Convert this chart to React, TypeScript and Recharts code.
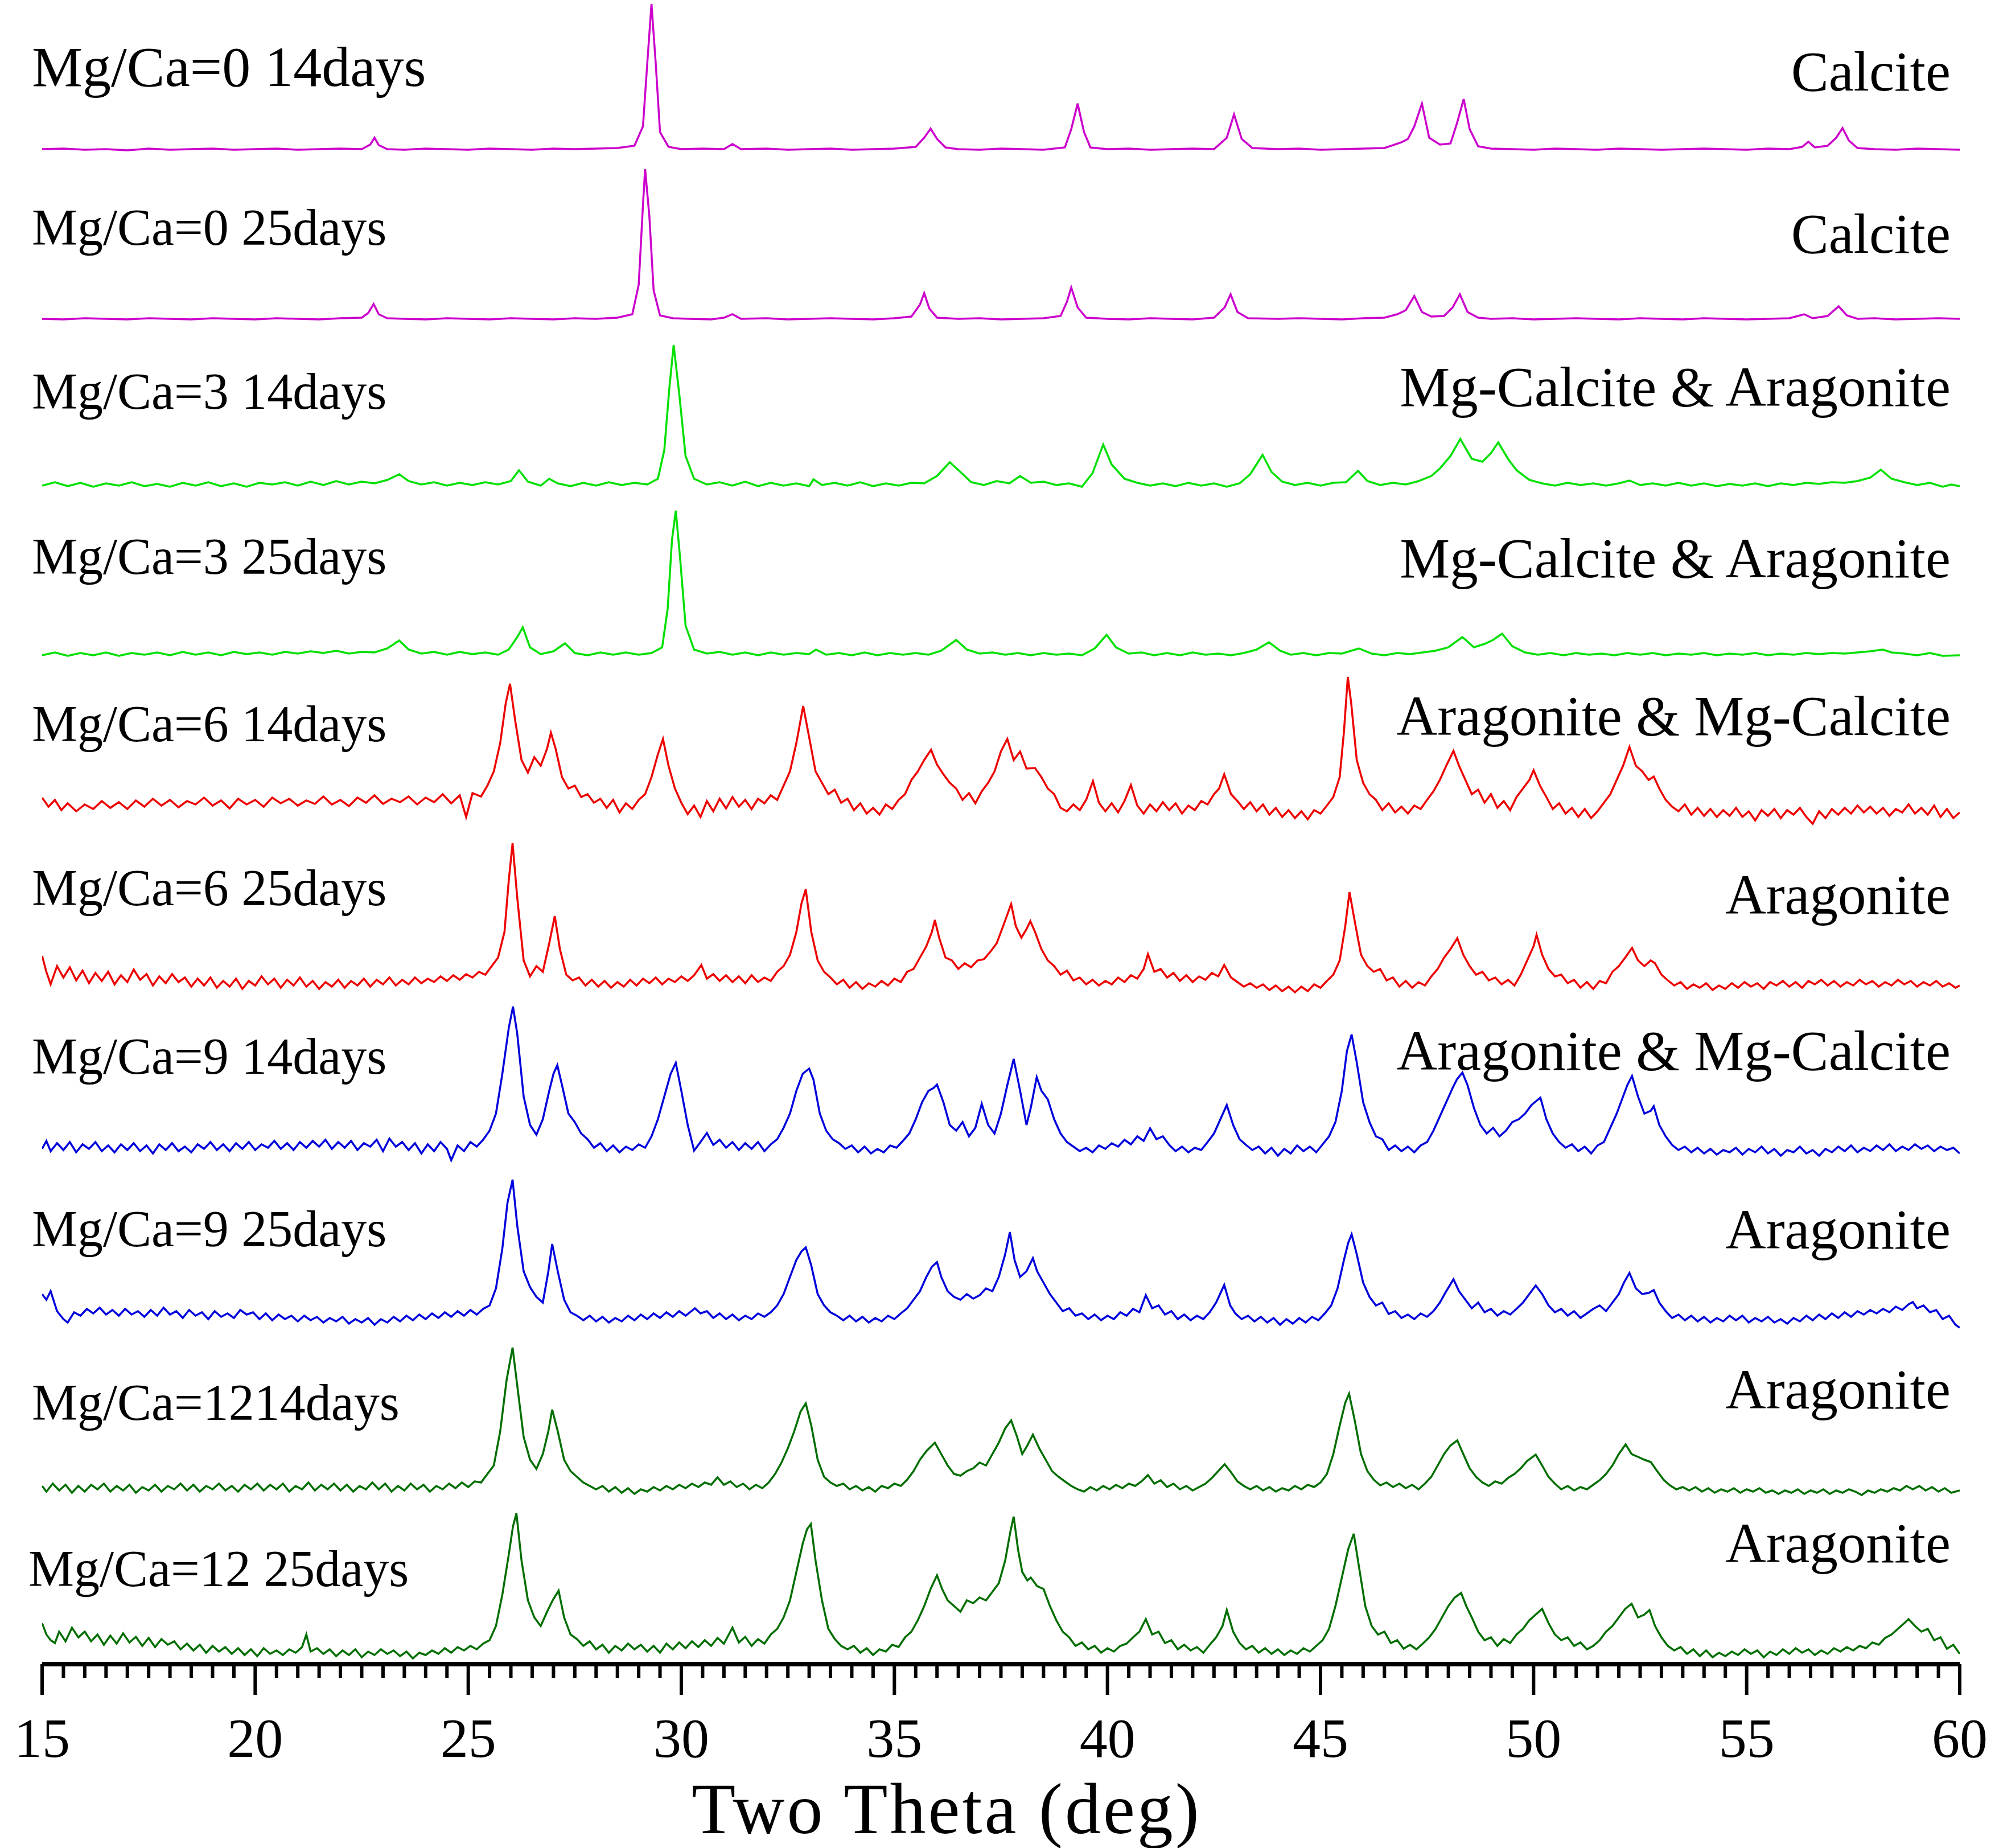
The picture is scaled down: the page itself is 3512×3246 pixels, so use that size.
import { LineChart, Line, XAxis, YAxis } from "recharts";

// XRD patterns, two theta (deg) vs. intensity above each pattern's own baseline
const mg0d14: [number, number][] = [
  [15,0],[15.5,1],[16,-1],[16.5,0],[17,-2],[17.5,1],[18,-1],[18.5,0],[19,1],[19.5,-1],[20,0],[20.5,1],[21,-1],[21.5,0],[22,1],[22.5,0],[22.7,8],[22.8,20],[22.9,7],[23.1,0],[23.5,-1],[24,1],[24.5,0],[25,-1],[25.5,1],[26,0],[26.5,-1],[27,1],[27.5,0],[28,1],[28.5,2],[28.9,6],[29.1,40],[29.2,150],[29.3,255],[29.4,150],[29.5,30],[29.7,4],[30,0],[30.5,1],[31,0],[31.2,9],[31.4,0],[32,1],[32.5,-1],[33,0],[33.5,1],[34,-1],[34.5,0],[35,1],[35.5,4],[35.7,20],[35.85,36],[36,18],[36.2,3],[36.5,0],[37,-1],[37.5,1],[38,0],[38.5,-1],[39,3],[39.15,35],[39.3,80],[39.45,30],[39.6,3],[40,0],[40.5,1],[41,-1],[41.5,0],[42,1],[42.5,0],[42.8,20],[42.97,61],[43.15,18],[43.4,2],[44,0],[44.5,1],[45,-1],[45.5,0],[46,1],[46.5,2],[46.9,12],[47.05,18],[47.2,40],[47.38,80],[47.55,20],[47.8,8],[48.05,10],[48.2,45],[48.36,88],[48.5,35],[48.7,5],[49,1],[49.5,0],[50,-1],[50.5,1],[51,0],[51.5,-1],[52,1],[52.5,0],[53,-1],[53.5,0],[54,1],[54.5,0],[55,-1],[55.5,1],[56,0],[56.3,4],[56.45,13],[56.6,3],[56.9,6],[57.1,20],[57.25,37],[57.4,15],[57.6,2],[58,0],[58.5,-1],[59,1],[59.5,0],[60,-1],
];

const mg0d25: [number, number][] = [
  [15,0],[15.5,-1],[16,1],[16.5,0],[17,-1],[17.5,1],[18,0],[18.5,-1],[19,1],[19.5,0],[20,-1],[20.5,1],[21,0],[21.5,-1],[22,1],[22.5,2],[22.65,10],[22.78,26],[22.9,8],[23.1,1],[23.5,0],[24,-1],[24.5,1],[25,0],[25.5,-1],[26,1],[26.5,0],[27,-1],[27.5,1],[28,0],[28.5,2],[28.85,8],[29,60],[29.1,200],[29.15,263],[29.25,180],[29.35,50],[29.5,6],[29.8,1],[30.2,0],[30.7,-1],[31,2],[31.2,8],[31.4,0],[32,1],[32.5,-1],[33,0],[33.5,1],[34,0],[34.5,-1],[35,1],[35.4,4],[35.6,25],[35.7,45],[35.82,18],[36,2],[36.5,0],[37,1],[37.5,-1],[38,0],[38.5,1],[38.9,5],[39.05,30],[39.15,55],[39.3,20],[39.5,2],[40,0],[40.5,-1],[41,1],[41.5,0],[42,-1],[42.5,2],[42.75,20],[42.89,43],[43.05,12],[43.3,1],[44,0],[44.5,1],[45,0],[45.5,-1],[46,1],[46.5,2],[46.8,8],[47,15],[47.2,40],[47.38,12],[47.6,4],[47.9,5],[48.1,20],[48.27,43],[48.45,12],[48.7,2],[49,0],[49.5,1],[50,-1],[50.5,0],[51,1],[51.5,0],[52,-1],[52.5,1],[53,0],[53.5,-1],[54,1],[54.5,0],[55,-1],[55.5,0],[56,1],[56.35,8],[56.55,1],[56.9,5],[57.16,22],[57.35,6],[57.6,0],[58,1],[58.5,-1],[59,0],[59.5,1],[60,0],
];

const mg3d14: [number, number][] = [
  [15,-2],[15.3,4],[15.6,-3],[15.9,3],[16.2,-4],[16.5,2],[16.8,-2],[17.1,4],[17.4,-3],[17.7,1],[18,-4],[18.3,3],[18.6,-2],[18.9,4],[19.2,-3],[19.5,2],[19.8,-4],[20.1,3],[20.4,0],[20.7,4],[21,-2],[21.3,5],[21.6,-1],[21.9,6],[22.2,0],[22.5,5],[22.8,2],[23.1,8],[23.38,18],[23.6,6],[23.9,0],[24.2,4],[24.5,-2],[24.8,3],[25.1,-1],[25.4,4],[25.7,0],[26,6],[26.19,25],[26.4,5],[26.7,-2],[26.9,10],[27.1,2],[27.4,-3],[27.7,3],[28,-2],[28.3,4],[28.6,-1],[28.9,3],[29.2,0],[29.45,10],[29.6,60],[29.72,170],[29.82,245],[29.95,160],[30.1,50],[30.3,10],[30.6,0],[30.9,4],[31.2,-2],[31.5,5],[31.8,-3],[32.1,3],[32.4,-2],[32.7,2],[33,-3],[33.1,9],[33.3,-1],[33.6,3],[33.9,-2],[34.2,4],[34.5,-3],[34.8,2],[35.1,-2],[35.4,3],[35.7,2],[36,15],[36.3,39],[36.55,22],[36.8,4],[37.1,-1],[37.4,6],[37.7,2],[37.95,15],[38.2,3],[38.5,5],[38.8,-1],[39.1,2],[39.4,-4],[39.65,20],[39.9,70],[40.1,35],[40.4,10],[40.7,3],[41,-2],[41.3,2],[41.6,-3],[41.9,3],[42.2,-2],[42.5,2],[42.8,-4],[43.1,2],[43.35,18],[43.64,52],[43.85,22],[44.1,5],[44.4,-1],[44.7,3],[45,-2],[45.3,3],[45.6,4],[45.88,24],[46.1,6],[46.4,-1],[46.7,3],[47,0],[47.3,6],[47.6,15],[47.8,28],[48.05,50],[48.28,80],[48.55,45],[48.8,40],[49,55],[49.17,74],[49.4,45],[49.6,25],[49.9,8],[50.2,2],[50.5,-2],[50.8,3],[51.1,-1],[51.4,2],[51.7,-2],[52,2],[52.25,7],[52.5,-1],[52.8,2],[53.1,-2],[53.4,3],[53.7,-2],[54,2],[54.3,-3],[54.6,1],[54.9,-2],[55.2,2],[55.5,-3],[55.8,2],[56.1,-1],[56.4,3],[56.7,1],[57,4],[57.3,3],[57.6,6],[57.9,12],[58.15,26],[58.4,10],[58.7,4],[59,-1],[59.3,3],[59.6,-4],[59.8,0],[60,-3],
];

const mg3d25: [number, number][] = [
  [15,-2],[15.3,3],[15.6,-3],[15.9,2],[16.2,-2],[16.5,3],[16.8,-3],[17.1,2],[17.4,-1],[17.7,3],[18,-2],[18.3,4],[18.6,-1],[18.9,3],[19.2,-2],[19.5,4],[19.8,0],[20.1,3],[20.4,-1],[20.7,4],[21,1],[21.3,5],[21.6,2],[21.9,6],[22.2,1],[22.5,4],[22.8,3],[23.1,10],[23.38,24],[23.6,8],[23.9,1],[24.2,4],[24.5,-1],[24.8,4],[25.1,0],[25.4,3],[25.7,-1],[25.95,8],[26.15,30],[26.28,47],[26.45,12],[26.7,0],[27,5],[27.27,19],[27.5,2],[27.8,-2],[28.1,3],[28.4,-1],[28.7,3],[29,-1],[29.3,2],[29.55,12],[29.68,80],[29.78,200],[29.87,252],[29.97,170],[30.1,50],[30.3,8],[30.6,1],[30.9,4],[31.2,-1],[31.5,3],[31.8,-2],[32.1,3],[32.4,-1],[32.7,2],[33,0],[33.16,8],[33.4,-1],[33.7,2],[34,-2],[34.3,3],[34.6,-2],[34.9,2],[35.2,-1],[35.5,2],[35.8,-1],[36.1,6],[36.45,25],[36.7,8],[37,1],[37.3,3],[37.6,-1],[37.9,2],[38.2,-2],[38.5,2],[38.8,-1],[39.1,1],[39.4,-2],[39.7,10],[39.98,34],[40.2,12],[40.5,1],[40.8,3],[41.1,-2],[41.4,2],[41.7,-2],[42,3],[42.3,-1],[42.6,1],[42.9,-2],[43.2,2],[43.5,8],[43.79,21],[44.05,6],[44.3,-1],[44.6,2],[44.9,-2],[45.2,2],[45.5,1],[45.9,10],[46.2,1],[46.5,-2],[46.8,2],[47.1,0],[47.4,3],[47.7,6],[48,12],[48.33,30],[48.6,12],[48.85,18],[49.05,25],[49.26,36],[49.5,14],[49.8,3],[50.1,-1],[50.4,2],[50.7,-2],[51,2],[51.3,-1],[51.6,1],[51.9,-2],[52.2,2],[52.5,-1],[52.8,2],[53.1,-2],[53.4,1],[53.7,-1],[54,2],[54.3,-2],[54.6,1],[54.9,-1],[55.2,2],[55.5,-2],[55.8,1],[56.1,-1],[56.4,2],[56.7,0],[57,2],[57.3,1],[57.6,3],[57.9,5],[58.2,8],[58.4,3],[58.7,1],[59,-2],[59.3,2],[59.6,-3],[60,-2],
];

const mg6d14: [number, number][] = [
  [15,14],[15.15,-2],[15.3,10],[15.45,-8],[15.6,4],[15.8,-10],[16,2],[16.2,-6],[16.4,8],[16.6,-4],[16.8,6],[17,-6],[17.2,9],[17.4,-2],[17.6,12],[17.8,0],[18,10],[18.2,-3],[18.4,8],[18.6,2],[18.8,14],[19,0],[19.2,9],[19.4,-5],[19.6,12],[19.8,2],[20,10],[20.2,-2],[20.4,14],[20.6,4],[20.8,12],[21,0],[21.2,9],[21.4,3],[21.6,16],[21.8,2],[22,10],[22.2,-1],[22.4,14],[22.6,5],[22.8,18],[23,3],[23.2,12],[23.4,6],[23.6,16],[23.8,2],[24,14],[24.2,6],[24.4,20],[24.6,4],[24.8,18],[24.95,-20],[25.1,22],[25.3,16],[25.45,35],[25.6,60],[25.75,110],[25.88,180],[25.98,214],[26.1,150],[26.25,80],[26.4,58],[26.55,85],[26.7,70],[26.85,100],[26.94,128],[27.05,100],[27.2,50],[27.35,30],[27.5,35],[27.65,15],[27.8,20],[27.95,5],[28.1,12],[28.25,-4],[28.4,10],[28.55,-12],[28.7,4],[28.85,-6],[29,10],[29.15,20],[29.3,50],[29.45,90],[29.57,117],[29.7,70],[29.85,30],[30,5],[30.15,-15],[30.3,0],[30.45,-20],[30.6,8],[30.75,-10],[30.9,12],[31.05,-5],[31.2,15],[31.35,-2],[31.5,10],[31.65,-6],[31.8,12],[31.95,4],[32.1,18],[32.25,10],[32.4,35],[32.55,60],[32.7,110],[32.86,175],[33,120],[33.15,60],[33.3,40],[33.45,20],[33.6,28],[33.75,5],[33.9,12],[34.05,-8],[34.2,4],[34.35,-14],[34.5,-4],[34.65,-16],[34.8,2],[34.95,-6],[35.1,10],[35.25,20],[35.4,45],[35.55,60],[35.7,80],[35.86,98],[36,72],[36.15,55],[36.3,40],[36.45,30],[36.6,10],[36.75,22],[36.9,4],[37.05,25],[37.2,40],[37.35,60],[37.5,95],[37.65,117],[37.8,80],[37.95,95],[38.1,65],[38.3,66],[38.45,50],[38.6,30],[38.75,20],[38.9,-4],[39.05,-10],[39.2,2],[39.35,-8],[39.5,10],[39.66,43],[39.8,5],[39.95,-10],[40.1,4],[40.25,-12],[40.4,8],[40.55,36],[40.7,0],[40.85,-14],[41,2],[41.15,-10],[41.3,6],[41.45,-8],[41.6,4],[41.75,-14],[41.9,0],[42.05,-8],[42.2,8],[42.35,2],[42.5,20],[42.62,30],[42.74,55],[42.9,20],[43.05,8],[43.2,-6],[43.35,6],[43.5,-10],[43.65,2],[43.8,-16],[43.95,-4],[44.1,-20],[44.25,-8],[44.4,-22],[44.55,-10],[44.7,-24],[44.85,-8],[45,-14],[45.15,0],[45.3,15],[45.45,50],[45.55,130],[45.64,226],[45.72,180],[45.85,80],[46,40],[46.15,20],[46.3,10],[46.45,-8],[46.6,4],[46.75,-12],[46.9,-2],[47.05,-14],[47.2,0],[47.35,-6],[47.5,10],[47.65,25],[47.8,45],[47.95,70],[48.12,96],[48.25,70],[48.4,45],[48.55,20],[48.7,28],[48.85,5],[49,20],[49.15,-4],[49.3,8],[49.45,-8],[49.6,15],[49.75,30],[49.9,45],[50,62],[50.15,35],[50.3,15],[50.45,-6],[50.6,4],[50.75,-14],[50.9,-4],[51.05,-20],[51.2,-6],[51.35,-22],[51.5,-10],[51.65,5],[51.8,20],[51.95,45],[52.1,70],[52.25,103],[52.4,70],[52.55,60],[52.7,45],[52.82,51],[52.95,30],[53.1,10],[53.25,-2],[53.4,-10],[53.55,2],[53.7,-16],[53.85,-4],[54,-18],[54.15,-6],[54.3,-20],[54.45,-8],[54.6,-18],[54.75,-4],[54.9,-20],[55.05,-10],[55.2,-26],[55.35,-8],[55.5,-18],[55.65,-6],[55.8,-22],[55.95,-8],[56.1,-16],[56.25,-4],[56.4,-20],[56.55,-32],[56.7,-10],[56.85,-22],[57,-6],[57.15,-16],[57.3,-4],[57.45,-14],[57.6,0],[57.75,-12],[57.9,-2],[58.05,-14],[58.2,-4],[58.35,-18],[58.5,-6],[58.65,-12],[58.8,2],[58.95,-14],[59.1,-4],[59.25,-16],[59.4,0],[59.55,-20],[59.7,-6],[59.85,-22],[60,-12],
];

const mg6d25: [number, number][] = [
  [15,48],[15.1,20],[15.2,-2],[15.35,30],[15.5,10],[15.65,28],[15.8,5],[15.95,22],[16.1,0],[16.25,18],[16.4,4],[16.55,20],[16.7,-2],[16.85,14],[17,2],[17.15,24],[17.3,6],[17.45,16],[17.6,-4],[17.75,12],[17.9,0],[18.05,16],[18.2,2],[18.35,10],[18.5,-6],[18.65,8],[18.8,-4],[18.95,10],[19.1,-8],[19.25,4],[19.4,-6],[19.55,8],[19.7,-10],[19.85,4],[20,-4],[20.15,12],[20.3,-2],[20.45,8],[20.6,-8],[20.75,6],[20.9,-4],[21.05,10],[21.2,-6],[21.35,4],[21.5,-10],[21.65,2],[21.8,-6],[21.95,6],[22.1,-8],[22.25,4],[22.4,-4],[22.55,8],[22.7,-6],[22.85,6],[23,-2],[23.15,10],[23.3,-4],[23.45,6],[23.6,-2],[23.75,10],[23.9,0],[24.05,8],[24.2,2],[24.35,12],[24.5,4],[24.65,14],[24.8,6],[24.95,16],[25.1,10],[25.25,20],[25.4,15],[25.55,30],[25.7,45],[25.85,90],[25.95,180],[26.04,246],[26.15,150],[26.3,40],[26.45,12],[26.6,30],[26.75,20],[26.9,70],[27.03,118],[27.15,60],[27.3,15],[27.45,5],[27.6,10],[27.75,-4],[27.9,6],[28.05,-6],[28.2,4],[28.35,-8],[28.5,2],[28.65,-6],[28.8,6],[28.95,-4],[29.1,8],[29.25,0],[29.4,10],[29.55,-2],[29.7,8],[29.85,2],[30,12],[30.15,4],[30.3,14],[30.47,32],[30.6,8],[30.75,16],[30.9,4],[31.05,14],[31.2,2],[31.35,12],[31.5,0],[31.65,14],[31.8,2],[31.95,10],[32.1,4],[32.25,20],[32.4,30],[32.55,50],[32.7,90],[32.82,140],[32.92,165],[33.05,90],[33.2,40],[33.35,20],[33.5,10],[33.65,-2],[33.8,6],[33.95,-8],[34.1,2],[34.25,-10],[34.4,0],[34.55,-6],[34.7,4],[34.85,-4],[35,8],[35.15,2],[35.3,20],[35.45,25],[35.6,45],[35.75,65],[35.88,90],[35.95,111],[36.05,80],[36.2,45],[36.35,40],[36.5,25],[36.65,35],[36.8,28],[36.95,40],[37.1,42],[37.25,55],[37.4,70],[37.55,100],[37.74,139],[37.85,100],[37.98,80],[38.1,95],[38.19,109],[38.3,90],[38.45,60],[38.6,40],[38.75,30],[38.9,15],[39.05,22],[39.2,5],[39.35,10],[39.5,-2],[39.65,6],[39.8,-4],[39.95,4],[40.1,-2],[40.25,10],[40.4,2],[40.55,14],[40.7,8],[40.85,25],[40.95,51],[41.1,20],[41.25,25],[41.4,10],[41.55,18],[41.7,4],[41.85,14],[42,2],[42.15,12],[42.3,6],[42.45,18],[42.6,12],[42.74,32],[42.9,10],[43.05,2],[43.2,-6],[43.35,0],[43.5,-8],[43.65,-2],[43.8,-12],[43.95,-4],[44.1,-14],[44.25,-6],[44.4,-16],[44.55,-6],[44.7,-14],[44.85,-2],[45,-8],[45.15,4],[45.3,15],[45.45,40],[45.58,100],[45.68,160],[45.8,110],[45.95,50],[46.1,30],[46.25,20],[46.4,25],[46.55,5],[46.7,10],[46.85,-6],[47,4],[47.15,-8],[47.3,2],[47.45,-4],[47.6,12],[47.75,25],[47.9,45],[48.05,60],[48.21,79],[48.35,50],[48.5,30],[48.65,15],[48.8,20],[48.95,5],[49.1,10],[49.25,-2],[49.4,6],[49.55,-4],[49.7,15],[49.85,40],[50,65],[50.07,85],[50.2,50],[50.35,25],[50.5,12],[50.65,15],[50.8,0],[50.95,6],[51.1,-8],[51.25,2],[51.4,-10],[51.55,4],[51.7,0],[51.85,20],[52,30],[52.15,45],[52.31,62],[52.45,40],[52.6,30],[52.75,40],[52.85,35],[53,15],[53.15,5],[53.3,-4],[53.45,2],[53.6,-10],[53.75,-2],[53.9,-8],[54.05,0],[54.2,-12],[54.35,-4],[54.5,-10],[54.65,0],[54.8,-8],[54.95,2],[55.1,-6],[55.25,0],[55.4,-10],[55.55,2],[55.7,-4],[55.85,4],[56,-6],[56.15,2],[56.3,-8],[56.45,4],[56.6,-2],[56.75,6],[56.9,-4],[57.05,4],[57.2,-6],[57.35,2],[57.5,-4],[57.65,6],[57.8,-2],[57.95,4],[58.1,-6],[58.25,2],[58.4,-4],[58.55,6],[58.7,-2],[58.85,4],[59,-6],[59.15,2],[59.3,-4],[59.45,4],[59.6,-6],[59.75,0],[59.9,-8],[60,-4],
];

const mg9d14: [number, number][] = [
  [15,-2],[15.1,12],[15.2,-6],[15.35,8],[15.5,-4],[15.65,10],[15.8,-8],[15.95,6],[16.1,-2],[16.25,10],[16.4,-6],[16.55,4],[16.7,-8],[16.85,6],[17,-4],[17.15,8],[17.3,-6],[17.45,4],[17.6,-10],[17.75,6],[17.9,-4],[18.05,8],[18.2,-6],[18.35,2],[18.5,-8],[18.65,6],[18.8,-2],[18.95,10],[19.1,-4],[19.25,6],[19.4,-6],[19.55,8],[19.7,-2],[19.85,10],[20,-4],[20.15,6],[20.3,0],[20.45,12],[20.6,-2],[20.75,8],[20.9,-4],[21.05,10],[21.2,0],[21.35,12],[21.5,2],[21.65,14],[21.8,-2],[21.95,10],[22.1,0],[22.25,12],[22.4,-4],[22.55,8],[22.7,2],[22.85,14],[23,-6],[23.15,16],[23.3,2],[23.45,10],[23.6,-4],[23.75,8],[23.9,-10],[24.05,6],[24.2,-6],[24.35,10],[24.5,-2],[24.6,-22],[24.75,4],[24.9,-6],[25.05,10],[25.2,2],[25.35,14],[25.5,30],[25.65,60],[25.8,130],[25.95,210],[26.05,248],[26.15,200],[26.3,90],[26.45,40],[26.6,23],[26.75,50],[26.9,100],[27,130],[27.09,145],[27.2,110],[27.35,60],[27.5,45],[27.65,25],[27.8,15],[27.95,0],[28.1,8],[28.25,-6],[28.4,4],[28.55,-8],[28.7,2],[28.85,-4],[29,6],[29.15,0],[29.3,20],[29.45,50],[29.6,90],[29.75,130],[29.87,149],[30,100],[30.15,40],[30.3,-5],[30.45,10],[30.6,26],[30.75,5],[30.9,14],[31.05,0],[31.2,10],[31.35,-4],[31.5,8],[31.65,-2],[31.8,10],[31.95,-6],[32.1,6],[32.25,15],[32.4,35],[32.55,60],[32.7,100],[32.85,130],[33,139],[33.1,120],[33.25,60],[33.4,30],[33.55,15],[33.7,8],[33.85,-2],[34,4],[34.15,-8],[34.3,2],[34.45,-10],[34.6,-2],[34.75,-8],[34.9,4],[35.05,0],[35.2,12],[35.35,25],[35.5,50],[35.65,80],[35.8,100],[35.92,105],[36,111],[36.15,80],[36.3,40],[36.45,30],[36.6,45],[36.75,20],[36.9,35],[37.05,77],[37.2,40],[37.35,25],[37.5,60],[37.65,110],[37.8,156],[37.95,100],[38.1,40],[38.2,70],[38.34,124],[38.45,100],[38.6,85],[38.75,50],[38.9,25],[39.05,10],[39.2,2],[39.35,-6],[39.5,0],[39.65,-8],[39.8,4],[39.95,-2],[40.1,8],[40.25,2],[40.4,14],[40.55,6],[40.7,20],[40.85,12],[41,34],[41.15,15],[41.3,20],[41.45,5],[41.6,-6],[41.75,2],[41.9,-8],[42.05,0],[42.2,-4],[42.35,10],[42.5,25],[42.65,50],[42.8,75],[42.95,40],[43.1,15],[43.25,5],[43.4,-4],[43.55,2],[43.7,-10],[43.85,0],[44,-14],[44.15,-2],[44.3,-10],[44.45,4],[44.6,-6],[44.75,2],[44.9,-8],[45.05,6],[45.2,20],[45.35,45],[45.5,100],[45.62,170],[45.73,199],[45.85,150],[46,80],[46.15,45],[46.3,20],[46.45,15],[46.6,-4],[46.75,4],[46.9,-6],[47.05,2],[47.2,-8],[47.35,4],[47.5,10],[47.65,30],[47.8,55],[47.95,80],[48.1,105],[48.2,120],[48.33,132],[48.45,110],[48.6,70],[48.75,40],[48.9,25],[49.05,35],[49.2,20],[49.35,30],[49.5,45],[49.65,50],[49.8,60],[49.95,75],[50.16,88],[50.3,50],[50.45,25],[50.6,10],[50.75,0],[50.9,6],[51.05,-6],[51.2,2],[51.35,-10],[51.5,4],[51.65,10],[51.8,35],[51.95,60],[52.1,90],[52.2,110],[52.31,126],[52.45,90],[52.6,60],[52.75,65],[52.82,73],[52.95,40],[53.1,20],[53.25,5],[53.4,-4],[53.55,2],[53.7,-8],[53.85,0],[54,-10],[54.15,-2],[54.3,-12],[54.45,-4],[54.6,-8],[54.75,0],[54.9,-12],[55.05,-2],[55.2,-8],[55.35,2],[55.5,-10],[55.65,-2],[55.8,-14],[55.95,-4],[56.1,-8],[56.25,2],[56.4,-10],[56.55,-4],[56.7,-14],[56.85,-2],[57,-8],[57.15,2],[57.3,-6],[57.45,4],[57.6,-8],[57.75,0],[57.9,-6],[58.05,4],[58.2,-4],[58.35,6],[58.5,-6],[58.65,2],[58.8,-4],[58.95,6],[59.1,-2],[59.25,4],[59.4,-6],[59.55,2],[59.7,-4],[59.85,0],[60,-10],
];

const mg9d25: [number, number][] = [
  [15,40],[15.1,30],[15.2,45],[15.35,10],[15.5,-4],[15.6,-10],[15.75,8],[15.9,2],[16.05,14],[16.2,6],[16.35,16],[16.5,4],[16.65,12],[16.8,2],[16.95,14],[17.1,4],[17.25,10],[17.4,0],[17.55,12],[17.7,2],[17.85,16],[18,4],[18.15,10],[18.3,-2],[18.45,12],[18.6,2],[18.75,8],[18.9,-4],[19.05,10],[19.2,0],[19.35,6],[19.5,-2],[19.65,12],[19.8,4],[19.95,8],[20.1,-4],[20.25,6],[20.4,-6],[20.55,4],[20.7,-4],[20.85,2],[21,-8],[21.15,2],[21.3,-6],[21.45,0],[21.6,-10],[21.75,-2],[21.9,-8],[22.05,0],[22.2,-12],[22.35,-4],[22.5,-10],[22.65,-2],[22.8,-14],[22.95,-4],[23.1,-10],[23.25,0],[23.4,-8],[23.55,2],[23.7,-6],[23.85,4],[24,-4],[24.15,6],[24.3,-2],[24.45,8],[24.6,0],[24.75,10],[24.9,2],[25.05,12],[25.2,4],[25.35,14],[25.5,20],[25.65,50],[25.8,120],[25.92,200],[26.04,241],[26.15,160],[26.3,80],[26.45,52],[26.6,35],[26.75,25],[26.88,80],[26.97,128],[27.1,80],[27.25,30],[27.4,8],[27.55,2],[27.7,-6],[27.85,2],[28,-8],[28.15,0],[28.3,-10],[28.45,-2],[28.6,-8],[28.75,2],[28.9,-6],[29.05,4],[29.2,-4],[29.35,6],[29.5,-2],[29.65,8],[29.8,0],[29.95,10],[30.1,2],[30.32,15],[30.45,6],[30.6,10],[30.75,-2],[30.9,6],[31.05,-4],[31.2,4],[31.35,-6],[31.5,2],[31.65,-4],[31.8,6],[31.95,0],[32.1,8],[32.25,20],[32.4,40],[32.55,70],[32.7,100],[32.82,115],[32.92,122],[33.05,90],[33.2,40],[33.35,20],[33.5,8],[33.65,2],[33.8,-6],[33.95,2],[34.1,-8],[34.25,0],[34.4,-10],[34.55,-2],[34.7,-8],[34.85,2],[35,-4],[35.15,6],[35.3,15],[35.45,30],[35.6,45],[35.75,70],[35.88,88],[36,96],[36.1,70],[36.25,45],[36.4,35],[36.55,30],[36.7,40],[36.85,32],[37,38],[37.15,50],[37.3,45],[37.45,70],[37.6,110],[37.71,149],[37.82,100],[37.95,70],[38.1,80],[38.25,103],[38.35,80],[38.5,60],[38.65,40],[38.8,25],[38.95,10],[39.1,15],[39.25,2],[39.4,6],[39.55,-4],[39.7,4],[39.85,-6],[40,2],[40.15,-4],[40.3,8],[40.45,2],[40.6,14],[40.75,8],[40.9,38],[41.05,15],[41.2,20],[41.35,4],[41.5,10],[41.65,-4],[41.8,4],[41.95,-6],[42.1,2],[42.25,-4],[42.4,8],[42.55,25],[42.74,56],[42.88,20],[43,6],[43.15,-4],[43.3,2],[43.45,-8],[43.6,0],[43.75,-10],[43.9,-2],[44.05,-14],[44.2,-4],[44.35,-12],[44.5,-2],[44.65,-10],[44.8,0],[44.95,-6],[45.1,6],[45.25,20],[45.4,50],[45.55,100],[45.65,130],[45.73,145],[45.85,110],[46,60],[46.15,35],[46.3,20],[46.45,25],[46.6,5],[46.75,10],[46.9,-2],[47.05,4],[47.2,-4],[47.35,6],[47.5,0],[47.65,10],[47.8,25],[47.95,45],[48.12,66],[48.25,45],[48.4,30],[48.55,15],[48.7,25],[48.85,8],[49,14],[49.15,2],[49.3,10],[49.45,4],[49.6,14],[49.75,25],[49.9,40],[50.05,55],[50.2,40],[50.35,20],[50.5,8],[50.65,14],[50.8,2],[50.95,10],[51.1,-2],[51.25,6],[51.4,14],[51.55,20],[51.7,10],[51.85,25],[52,40],[52.12,60],[52.25,77],[52.4,50],[52.55,40],[52.7,42],[52.82,47],[52.95,25],[53.1,10],[53.25,-2],[53.4,4],[53.55,-6],[53.7,2],[53.85,-8],[54,0],[54.15,-10],[54.3,-2],[54.45,-8],[54.6,2],[54.75,-6],[54.9,2],[55.05,-10],[55.2,-2],[55.35,-8],[55.5,0],[55.65,-10],[55.8,-4],[55.95,-12],[56.1,-2],[56.25,-8],[56.4,2],[56.55,-6],[56.7,4],[56.85,-4],[57,6],[57.15,-2],[57.3,8],[57.45,0],[57.6,10],[57.75,4],[57.9,12],[58.05,6],[58.2,14],[58.35,8],[58.5,18],[58.65,12],[58.8,22],[58.9,26],[59,15],[59.15,20],[59.3,8],[59.45,12],[59.6,-4],[59.75,2],[59.9,-14],[60,-19],
];

const mg12d14: [number, number][] = [
  [15,4],[15.1,-6],[15.25,8],[15.4,-4],[15.55,6],[15.7,-8],[15.85,4],[16,-6],[16.15,6],[16.3,-2],[16.45,8],[16.6,-6],[16.75,4],[16.9,-4],[17.05,6],[17.2,-8],[17.35,2],[17.5,-4],[17.65,6],[17.8,-6],[17.95,4],[18.1,-2],[18.25,8],[18.4,-4],[18.55,6],[18.7,-6],[18.85,4],[19,-2],[19.15,8],[19.3,-4],[19.45,4],[19.6,-6],[19.75,6],[19.9,-2],[20.05,8],[20.2,-4],[20.35,6],[20.5,-2],[20.65,8],[20.8,-6],[20.95,4],[21.1,-2],[21.25,10],[21.4,-4],[21.55,6],[21.7,-2],[21.85,8],[22,-4],[22.15,6],[22.3,-6],[22.45,4],[22.6,-2],[22.75,10],[22.9,-2],[23.05,8],[23.2,-6],[23.35,4],[23.5,-4],[23.65,8],[23.8,-2],[23.95,6],[24.1,-6],[24.25,4],[24.4,-2],[24.55,8],[24.7,0],[24.85,10],[25,2],[25.15,12],[25.3,10],[25.45,25],[25.6,40],[25.75,100],[25.9,190],[26.04,247],[26.15,180],[26.3,90],[26.45,50],[26.6,34],[26.75,60],[26.88,100],[26.97,138],[27.1,100],[27.25,50],[27.4,30],[27.55,20],[27.7,10],[27.85,4],[28,-2],[28.15,4],[28.3,-6],[28.45,2],[28.6,-8],[28.75,0],[28.9,-10],[29.05,-2],[29.2,-6],[29.35,2],[29.5,-4],[29.65,4],[29.8,-2],[29.95,6],[30.1,0],[30.25,8],[30.4,2],[30.55,10],[30.7,6],[30.85,19],[31,6],[31.15,12],[31.3,2],[31.45,8],[31.6,-2],[31.75,6],[31.9,0],[32.05,10],[32.2,25],[32.35,45],[32.5,70],[32.65,100],[32.8,135],[32.92,149],[33.05,110],[33.2,50],[33.35,20],[33.5,10],[33.65,4],[33.8,8],[33.95,-2],[34.1,4],[34.25,-4],[34.4,2],[34.55,-6],[34.7,4],[34.85,0],[35,8],[35.15,4],[35.3,15],[35.45,30],[35.6,50],[35.75,65],[35.95,80],[36.1,60],[36.25,40],[36.4,25],[36.55,22],[36.7,30],[36.85,35],[37,45],[37.15,40],[37.3,60],[37.45,80],[37.6,105],[37.74,119],[37.88,90],[38,60],[38.12,75],[38.25,94],[38.4,70],[38.55,50],[38.7,30],[38.85,20],[39,12],[39.15,4],[39.3,-2],[39.45,-6],[39.6,2],[39.75,-4],[39.9,4],[40.05,-2],[40.2,6],[40.35,0],[40.5,8],[40.65,4],[40.8,12],[40.95,23],[41.1,8],[41.25,14],[41.4,2],[41.55,8],[41.7,-2],[41.85,4],[42,-4],[42.15,2],[42.3,8],[42.45,18],[42.6,30],[42.75,42],[42.9,28],[43.05,12],[43.2,4],[43.35,-2],[43.5,4],[43.65,-4],[43.8,2],[43.95,-6],[44.1,0],[44.25,-4],[44.4,4],[44.55,-2],[44.7,6],[44.85,2],[45,10],[45.15,25],[45.3,60],[45.45,110],[45.58,150],[45.67,166],[45.8,120],[45.95,60],[46.1,30],[46.25,15],[46.4,5],[46.55,10],[46.7,2],[46.85,8],[47,0],[47.15,6],[47.3,-2],[47.45,8],[47.6,20],[47.75,40],[47.9,60],[48.05,75],[48.21,84],[48.35,60],[48.5,35],[48.65,20],[48.8,10],[48.95,4],[49.1,12],[49.25,8],[49.4,18],[49.55,25],[49.7,35],[49.85,48],[50.05,59],[50.2,40],[50.35,20],[50.5,8],[50.65,-2],[50.8,4],[50.95,-4],[51.1,2],[51.25,-2],[51.4,6],[51.55,14],[51.7,25],[51.85,40],[52,60],[52.16,77],[52.3,60],[52.45,55],[52.6,50],[52.75,46],[52.9,30],[53.05,15],[53.2,5],[53.35,-2],[53.5,2],[53.65,-4],[53.8,2],[53.95,-6],[54.1,0],[54.25,-8],[54.4,-2],[54.55,-6],[54.7,0],[54.85,-8],[55,-2],[55.15,-6],[55.3,0],[55.45,-8],[55.6,-4],[55.75,-10],[55.9,-4],[56.05,-8],[56.2,-2],[56.35,-10],[56.5,-4],[56.65,-8],[56.8,-2],[56.95,-10],[57.1,-4],[57.25,-8],[57.4,-2],[57.55,-6],[57.7,-12],[57.85,-4],[58,-8],[58.15,-2],[58.3,-6],[58.45,0],[58.6,-4],[58.75,4],[58.9,-2],[59.05,4],[59.2,-4],[59.35,2],[59.5,-6],[59.65,0],[59.8,-8],[60,-4],
];

const mg12d25: [number, number][] = [
  [15,50],[15.1,30],[15.2,20],[15.3,15],[15.4,35],[15.55,18],[15.7,42],[15.85,25],[16,35],[16.15,18],[16.3,30],[16.45,12],[16.6,28],[16.75,14],[16.9,32],[17.05,16],[17.2,26],[17.35,10],[17.5,24],[17.65,8],[17.8,22],[17.95,12],[18.1,18],[18.25,4],[18.4,14],[18.55,2],[18.7,12],[18.85,-2],[19,10],[19.15,0],[19.3,8],[19.45,-4],[19.6,6],[19.75,-6],[19.9,4],[20.05,-8],[20.2,6],[20.35,-4],[20.5,2],[20.65,-6],[20.8,4],[20.95,-2],[21.1,8],[21.2,30],[21.3,0],[21.45,6],[21.6,-4],[21.75,4],[21.9,-8],[22.05,2],[22.2,-6],[22.35,4],[22.5,-10],[22.65,0],[22.8,-6],[22.95,4],[23.1,-4],[23.25,2],[23.4,-8],[23.55,0],[23.7,-12],[23.85,-2],[24,-6],[24.15,2],[24.3,-4],[24.45,6],[24.6,-2],[24.75,8],[24.9,2],[25.05,10],[25.2,4],[25.35,14],[25.5,20],[25.65,45],[25.8,100],[25.95,170],[26.05,220],[26.13,243],[26.25,160],[26.4,90],[26.55,60],[26.7,45],[26.85,70],[26.98,90],[27.12,107],[27.25,60],[27.4,30],[27.55,22],[27.7,10],[27.85,18],[28,4],[28.15,12],[28.3,-2],[28.45,10],[28.6,2],[28.75,14],[28.9,4],[29.05,12],[29.2,0],[29.35,10],[29.5,-2],[29.65,14],[29.8,4],[29.95,16],[30.1,6],[30.25,18],[30.4,8],[30.55,20],[30.7,10],[30.85,24],[31,14],[31.2,42],[31.35,16],[31.5,26],[31.65,10],[31.8,22],[31.95,14],[32.1,30],[32.25,40],[32.4,60],[32.55,90],[32.7,140],[32.85,190],[32.95,215],[33.04,224],[33.15,160],[33.3,90],[33.45,40],[33.6,22],[33.75,10],[33.9,4],[34.05,10],[34.2,-2],[34.35,6],[34.5,-6],[34.65,4],[34.8,0],[34.95,12],[35.1,8],[35.25,25],[35.4,35],[35.55,55],[35.7,80],[35.85,110],[36,134],[36.12,110],[36.25,90],[36.4,80],[36.55,70],[36.7,90],[36.85,85],[37,95],[37.15,90],[37.3,105],[37.45,120],[37.6,160],[37.72,210],[37.8,237],[37.9,180],[38,140],[38.12,125],[38.2,130],[38.35,115],[38.5,110],[38.65,80],[38.8,55],[38.95,35],[39.1,25],[39.25,10],[39.4,16],[39.55,4],[39.7,10],[39.85,-2],[40,6],[40.15,0],[40.3,10],[40.45,14],[40.6,25],[40.75,35],[40.9,57],[41.05,30],[41.2,35],[41.35,15],[41.5,20],[41.65,4],[41.8,12],[41.95,2],[42.1,8],[42.25,-2],[42.4,12],[42.55,25],[42.7,45],[42.8,73],[42.95,35],[43.1,15],[43.25,4],[43.4,10],[43.55,-2],[43.7,6],[43.85,-4],[44,4],[44.15,-6],[44.3,2],[44.45,-4],[44.6,6],[44.75,0],[44.9,10],[45.05,20],[45.2,40],[45.35,80],[45.5,130],[45.65,180],[45.78,207],[45.9,150],[46.05,80],[46.2,45],[46.35,30],[46.5,35],[46.65,15],[46.8,20],[46.95,5],[47.1,12],[47.25,4],[47.4,14],[47.55,25],[47.7,40],[47.85,60],[48,80],[48.15,95],[48.3,103],[48.42,80],[48.55,60],[48.7,35],[48.85,20],[49,25],[49.15,10],[49.3,22],[49.45,15],[49.6,30],[49.75,40],[49.9,55],[50.05,65],[50.2,75],[50.35,50],[50.5,30],[50.65,20],[50.8,25],[50.95,10],[51.1,16],[51.25,4],[51.4,10],[51.55,20],[51.7,35],[51.85,45],[52,60],[52.15,75],[52.3,84],[52.45,60],[52.6,65],[52.72,73],[52.85,45],[53,25],[53.15,10],[53.3,2],[53.45,8],[53.6,-4],[53.75,4],[53.9,-8],[54.05,2],[54.2,-10],[54.35,-2],[54.5,-8],[54.65,0],[54.8,-6],[54.95,4],[55.1,-4],[55.25,2],[55.4,-10],[55.55,0],[55.7,-6],[55.85,4],[56,-4],[56.15,6],[56.3,-2],[56.45,4],[56.6,-6],[56.75,2],[56.9,-4],[57.05,6],[57.2,0],[57.35,8],[57.5,2],[57.65,10],[57.8,6],[57.95,16],[58.1,12],[58.25,24],[58.4,30],[58.55,40],[58.7,50],[58.8,57],[58.95,45],[59.1,35],[59.25,40],[59.4,20],[59.55,25],[59.7,5],[59.85,12],[60,-4],
];

const patterns = [mg0d14, mg0d25, mg3d14, mg3d25, mg6d14, mg6d25, mg9d14, mg9d25, mg12d14, mg12d25];

// vertical stacking offset of each pattern (same intensity units)
const stackOffsets = [2661, 2363, 2072, 1774, 1508, 1196, 907, 610, 309, 22];

const sampleLabels = [
  "Mg/Ca=0 14days",
  "Mg/Ca=0 25days",
  "Mg/Ca=3 14days",
  "Mg/Ca=3 25days",
  "Mg/Ca=6 14days",
  "Mg/Ca=6 25days",
  "Mg/Ca=9 14days",
  "Mg/Ca=9 25days",
  "Mg/Ca=1214days",
  "Mg/Ca=12 25days",
];

const phaseLabels = [
  "Calcite",
  "Calcite",
  "Mg-Calcite & Aragonite",
  "Mg-Calcite & Aragonite",
  "Aragonite & Mg-Calcite",
  "Aragonite",
  "Aragonite & Mg-Calcite",
  "Aragonite",
  "Aragonite",
  "Aragonite",
];

const majorTicks = [15, 20, 25, 30, 35, 40, 45, 50, 55, 60];
const axisTitle = "Two Theta (deg)";

// styling / layout
const colors = [
  "#cc00cc", "#cc00cc",
  "#00e000", "#00e000",
  "#ee0000", "#ee0000",
  "#0000dd", "#0000dd",
  "#006e00", "#006e00",
];
const leftLabelY = [151, 430, 718, 1008, 1302, 1590, 1886, 2189, 2494, 2786];
const leftLabelX = [56, 56, 56, 56, 56, 56, 56, 56, 56, 50];
const leftLabelSize = [100, 90, 90, 90, 90, 90, 90, 90, 90, 90];
const rightLabelY = [159, 444, 713, 1014, 1291, 1605, 1879, 2193, 2474, 2744];
const W = 3512;
const H = 3246;
const AXIS_Y = 2923;
const FONT = "'Liberation Serif', 'Times New Roman', serif";

const minorTicks: number[] = [];
for (let t = 15; t <= 60.001; t += 0.5) minorTicks.push(Math.round(t * 10) / 10);

function XTick(props: any) {
  const { x, y, payload } = props;
  const v = payload.value as number;
  const major = majorTicks.includes(v);
  return (
    <g>
      <line x1={x} x2={x} y1={y} y2={y + (major ? 54 : 24)} stroke="#000" strokeWidth={6} />
      {major && (
        <text x={x} y={3086} textAnchor="middle" fontFamily={FONT} fontSize={98} fill="#000">
          {v}
        </text>
      )}
    </g>
  );
}

export default function App() {
  return (
    <div style={{ position: "absolute", left: 0, top: 0, width: W, height: H, background: "#fff" }}>
      <LineChart width={W} height={H} margin={{ top: 0, right: 69, bottom: 0, left: 74 }}>
        <XAxis
          dataKey="x"
          type="number"
          domain={[15, 60]}
          allowDataOverflow
          ticks={minorTicks}
          interval={0}
          tick={<XTick />}
          tickLine={false}
          tickSize={0}
          tickMargin={0}
          height={H - AXIS_Y}
          axisLine={{ stroke: "#000", strokeWidth: 8 }}
        />
        <YAxis hide width={0} type="number" domain={[0, AXIS_Y]} allowDataOverflow />
        {patterns.map((pts, i) => (
          <Line
            key={sampleLabels[i]}
            data={pts.map(([x, v]) => ({ x, y: v + stackOffsets[i] }))}
            dataKey="y"
            type="linear"
            stroke={colors[i]}
            strokeWidth={3.5}
            dot={false}
            activeDot={false}
            isAnimationActive={false}
          />
        ))}
      </LineChart>
      <svg
        width={W}
        height={H}
        style={{ position: "absolute", left: 0, top: 0, pointerEvents: "none" }}
      >
        {sampleLabels.map((s, i) => (
          <text key={s} x={leftLabelX[i]} y={leftLabelY[i]} fontFamily={FONT} fontSize={leftLabelSize[i]} fill="#000">
            {s}
          </text>
        ))}
        {phaseLabels.map((s, i) => (
          <text key={i} x={3427} y={rightLabelY[i]} textAnchor="end" fontFamily={FONT} fontSize={99} fill="#000">
            {s}
          </text>
        ))}
        <text x={1663} y={3220} textAnchor="middle" fontFamily={FONT} fontSize={126} letterSpacing={4} fill="#000">
          {axisTitle}
        </text>
      </svg>
    </div>
  );
}
